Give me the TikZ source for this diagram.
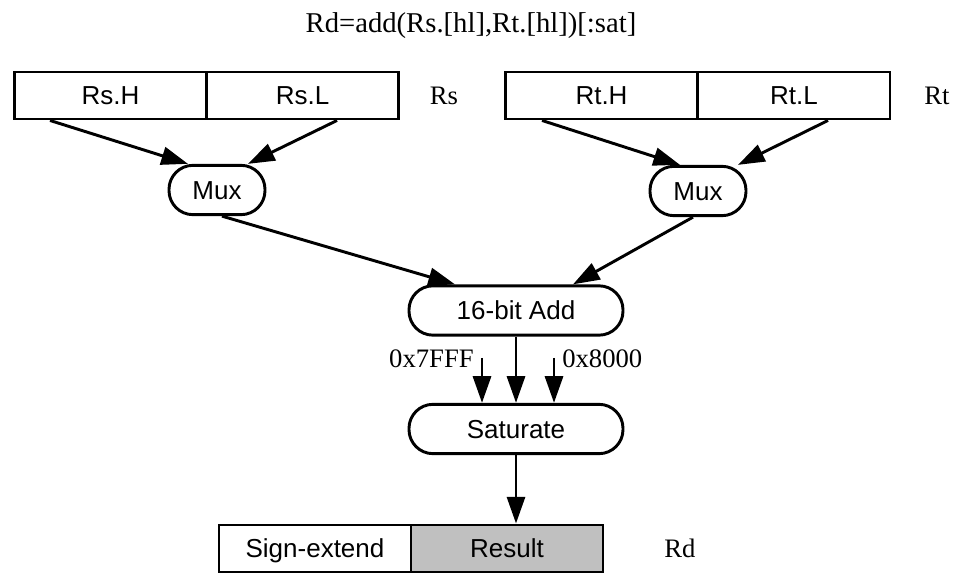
\documentclass[tikz,border=0pt]{standalone}
\usepackage{fontspec}
\setmainfont{Liberation Serif}
\setsansfont{Liberation Sans}
\usetikzlibrary{arrows.meta,calc}
\definecolor{rink}{HTML}{000000}
\definecolor{rgrey}{HTML}{C0C0C0}
\tikzset{
  rfield/.style={
    draw=rink, line width=2.2pt, fill=#1, text=rink,
    minimum width=144pt, minimum height=35.25pt, inner sep=0pt,
    text height=14pt, text depth=0pt,
    font=\sffamily\fontsize{19.5}{22}\selectfont},
  rfield/.default=white,
  runit/.style={
    draw=rink, line width=2.2pt, fill=white, text=rink,
    rounded corners=18pt, minimum height=37pt, inner sep=0pt,
    text height=14pt, text depth=0pt,
    font=\sffamily\fontsize{19.5}{22}\selectfont},
  rname/.style={text=rink, inner sep=0pt,
    font=\rmfamily\fontsize{20}{23}\selectfont},
  rtitle/.style={text=rink, inner sep=0pt,
    font=\rmfamily\fontsize{21.5}{25}\selectfont},
  rflow/.style={-{Triangle[length=20pt,width=13.5pt]}, draw=rink,
    line width=2.2pt},
}
\begin{document}
\begin{tikzpicture}[x=0.75pt,y=-0.75pt]
\useasboundingbox (0,0) rectangle (953,573);

% title
\node[rtitle,anchor=base] (title) at (471,33) {Rd=add(Rs.[hl],Rt.[hl])[:sat]};

% source registers
\node[rfield] (rsh) at (110.5,95.5) {Rs.H};
\node[rfield] (rsl) at (302.5,95.5) {Rs.L};
\node[rname] (rs) at (444,95.5) {Rs};
\node[rfield] (rth) at (601.5,95.5) {Rt.H};
\node[rfield] (rtl) at (794,95.5) {Rt.L};
\node[rname] (rt) at (937,95.5) {Rt};

% half select
\node[runit,minimum width=72pt] (muxs) at (217,190) {Mux};
\node[runit,minimum width=72pt] (muxt) at (698,191) {Mux};

% add, then saturate
\node[runit,minimum width=160.5pt] (add) at (516,310.5) {16-bit Add};
\node[runit,minimum width=160.5pt] (sat) at (516,429) {Saturate};
\coordinate (kmaxin) at (482,358);
\coordinate (kminin) at (554,358);
\node[rname,anchor=east] (kmax) at (474,359) {0x7FFF};
\node[rname,anchor=west] (kmin) at (562,359) {0x8000};

% destination register
\node[rfield] (rdext) at (315,548.5) {Sign-extend};
\node[rfield=rgrey] (rdres) at (507,548.5) {Result};
\node[rname] (rd) at (680,548.5) {Rd};

% flow
\draw[rflow] ($(rsh.south)+(-60.5,0)$) -- ($(muxs.north)+(-29,0)$);
\draw[rflow] ($(rsl.south)+(34.5,0)$) -- ($(muxs.north)+(31,0)$);
\draw[rflow] ($(rth.south)+(-59.5,0)$) -- ($(muxt.north)+(-18,0)$);
\draw[rflow] ($(rtl.south)+(34,0)$) -- ($(muxt.north)+(40,0)$);
\draw[rflow] ($(muxs.south)+(5,0)$) -- ($(add.north)+(-61,0)$);
\draw[rflow] ($(muxt.south)+(-5,0)$) -- ($(add.north)+(57,0)$);
\draw[rflow] (add.south) -- (sat.north);
\draw[rflow] (kmaxin) -- (kmaxin |- sat.north);
\draw[rflow] (kminin) -- (kminin |- sat.north);
\draw[rflow] (sat.south) -- (sat.south |- rdres.north);

\end{tikzpicture}
\end{document}
